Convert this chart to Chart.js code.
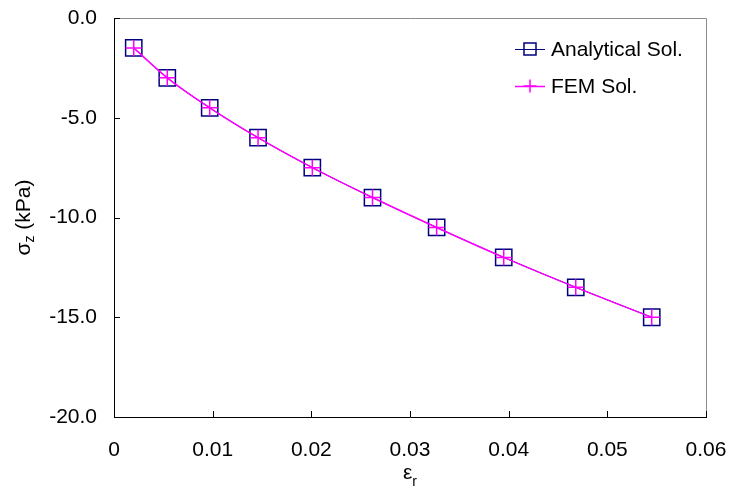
<!DOCTYPE html>
<html>
<head>
<meta charset="utf-8">
<script src="https://cdn.jsdelivr.net/npm/chart.js@4.4.1/dist/chart.umd.min.js"></script>
<style>
  html, body { margin: 0; padding: 0; background: #ffffff; }
  #wrap { width: 732px; height: 497px; }
</style>
</head>
<body>
<div id="wrap"><canvas id="c" width="732" height="497"></canvas></div>
<script>
// Radial strain vs vertical stress
const strainR = [0.0020, 0.0054, 0.0097, 0.0146, 0.0201, 0.0262, 0.0327, 0.0395, 0.0468, 0.0545];
const sigmaAnalytical = [-1.5, -3.0, -4.5, -6.0, -7.5, -9.0, -10.5, -12.0, -13.5, -15.0];
const sigmaFEM = [-1.5, -3.0, -4.5, -6.0, -7.5, -9.0, -10.5, -12.0, -13.5, -15.0];
const seriesNames = ['Analytical Sol.', 'FEM Sol.'];
const xTickLabels = ['0', '0.01', '0.02', '0.03', '0.04', '0.05', '0.06'];
const yTickLabels = ['0.0', '-5.0', '-10.0', '-15.0', '-20.0'];

const FONT = "'Liberation Sans', Arial, sans-serif";
const NAVY = '#000080';
const MAGENTA = '#ff00ff';

const toPoints = (xs, ys) => xs.map((x, i) => ({ x: x, y: ys[i] }));

// Frame, inward tick marks, legend and axis titles with subscripts
const decor = {
  id: 'decor',
  beforeDatasetsDraw(chart) {
    const { ctx, chartArea: a, scales } = chart;
    ctx.save();
    ctx.lineWidth = 1;
    // top and right edges of the plot box
    ctx.strokeStyle = '#8c8c8c';
    ctx.beginPath();
    ctx.moveTo(a.left, Math.round(a.top) + 0.5);
    ctx.lineTo(Math.round(a.right) + 0.5, Math.round(a.top) + 0.5);
    ctx.lineTo(Math.round(a.right) + 0.5, a.bottom);
    ctx.stroke();
    // axis lines
    ctx.strokeStyle = '#000000';
    ctx.beginPath();
    ctx.moveTo(Math.round(a.left) + 0.5, a.top);
    ctx.lineTo(Math.round(a.left) + 0.5, Math.round(a.bottom) + 0.5);
    ctx.lineTo(Math.round(a.right) + 1, Math.round(a.bottom) + 0.5);
    ctx.stroke();
    // tick marks pointing into the plot
    const tl = 6;
    ctx.beginPath();
    scales.y.ticks.forEach(t => {
      const py = Math.round(scales.y.getPixelForValue(t.value)) + 0.5;
      ctx.moveTo(a.left, py);
      ctx.lineTo(a.left + tl, py);
    });
    scales.x.ticks.forEach(t => {
      const px = Math.round(scales.x.getPixelForValue(t.value)) + 0.5;
      ctx.moveTo(px, a.bottom);
      ctx.lineTo(px, a.bottom - tl);
    });
    ctx.stroke();
    ctx.restore();
  },
  afterDraw(chart) {
    const { ctx, chartArea: a } = chart;
    ctx.save();
    ctx.fillStyle = '#000000';

    // legend
    const lx = a.right - 191;
    const rows = [
      { name: seriesNames[0], color: NAVY, marker: 'rect', y: a.top + 31 },
      { name: seriesNames[1], color: MAGENTA, marker: 'cross', y: a.top + 68 }
    ];
    rows.forEach(r => {
      ctx.strokeStyle = r.color;
      ctx.lineWidth = r.marker === 'rect' ? 1 : 1.5;
      ctx.beginPath();
      ctx.moveTo(lx, r.y + 0.5);
      ctx.lineTo(lx + 30, r.y + 0.5);
      ctx.stroke();
      ctx.lineWidth = 1.5;
      ctx.beginPath();
      if (r.marker === 'rect') {
        ctx.rect(lx + 9, r.y - 6, 12, 12);
      } else {
        ctx.moveTo(lx + 15, r.y - 6.5);
        ctx.lineTo(lx + 15, r.y + 6.5);
        ctx.moveTo(lx + 8.5, r.y);
        ctx.lineTo(lx + 21.5, r.y);
      }
      ctx.stroke();
      ctx.font = '21px ' + FONT;
      ctx.textAlign = 'left';
      ctx.textBaseline = 'alphabetic';
      ctx.fillText(r.name, lx + 36, r.y + 7);
    });

    // y-axis title: sigma_z (kPa)
    const big = '21px ' + FONT, small = '14px ' + FONT;
    ctx.save();
    ctx.translate(24, (a.top + a.bottom) / 2);
    ctx.rotate(-Math.PI / 2);
    ctx.textAlign = 'left';
    ctx.textBaseline = 'alphabetic';
    ctx.font = big; const w1 = ctx.measureText('σ').width;
    ctx.font = small; const w2 = ctx.measureText('z').width;
    ctx.font = big; const w3 = ctx.measureText(' (kPa)').width;
    let sx = -(w1 + w2 + w3) / 2;
    ctx.font = big; ctx.fillText('σ', sx, 6);
    ctx.font = small; ctx.fillText('z', sx + w1, 9.5);
    ctx.font = big; ctx.fillText(' (kPa)', sx + w1 + w2, 6);
    ctx.restore();

    // x-axis title: epsilon_r
    ctx.textAlign = 'left';
    ctx.textBaseline = 'alphabetic';
    ctx.font = big; const e1 = ctx.measureText('ε').width;
    ctx.font = small; const e2 = ctx.measureText('r').width;
    const cx = (a.left + a.right) / 2;
    const ex = cx - (e1 + e2) / 2;
    ctx.font = big; ctx.fillText('ε', ex, 479);
    ctx.font = small; ctx.fillText('r', ex + e1, 486);
    ctx.restore();
  }
};

new Chart(document.getElementById('c'), {
  type: 'line',
  data: {
    datasets: [
      {
        label: seriesNames[0],
        data: toPoints(strainR, sigmaAnalytical),
        borderColor: NAVY,
        borderWidth: 1,
        pointStyle: 'rect',
        pointRadius: 11.5,
        pointBorderColor: NAVY,
        pointBackgroundColor: 'rgba(0,0,0,0)',
        pointBorderWidth: 1.5,
        cubicInterpolationMode: 'monotone',
        order: 2
      },
      {
        label: seriesNames[1],
        data: toPoints(strainR, sigmaFEM),
        borderColor: MAGENTA,
        borderWidth: 1.5,
        pointStyle: 'cross',
        pointRadius: 8,
        pointBorderColor: MAGENTA,
        pointBackgroundColor: MAGENTA,
        pointBorderWidth: 1.5,
        cubicInterpolationMode: 'monotone',
        order: 1
      }
    ]
  },
  options: {
    responsive: false,
    animation: false,
    devicePixelRatio: 1,
    layout: { padding: { top: 18, right: 26, left: 0, bottom: 0 } },
    plugins: {
      legend: { display: false },
      tooltip: { enabled: false }
    },
    scales: {
      x: {
        type: 'linear',
        min: 0,
        max: 0.06,
        grid: { display: false, drawTicks: false },
        border: { display: false },
        afterBuildTicks: s => { s.ticks = xTickLabels.map(l => ({ value: parseFloat(l) })); },
        afterFit: s => { s.height = 80; s.paddingLeft = 0; s.paddingRight = 0; },
        ticks: {
          padding: 21,
          maxRotation: 0,
          autoSkip: false,
          color: '#000000',
          font: { family: FONT, size: 21 },
          callback: (v, i) => xTickLabels[i]
        }
      },
      y: {
        type: 'linear',
        min: -20,
        max: 0,
        grid: { display: false, drawTicks: false },
        border: { display: false },
        afterBuildTicks: s => { s.ticks = yTickLabels.map(l => ({ value: parseFloat(l) })); },
        afterFit: s => { s.width = 114; s.paddingTop = 0; s.paddingBottom = 0; },
        ticks: {
          padding: 17,
          autoSkip: false,
          color: '#000000',
          font: { family: FONT, size: 21 },
          callback: v => yTickLabels.find(l => parseFloat(l) === v)
        }
      }
    }
  },
  plugins: [decor]
});
</script>
</body>
</html>
